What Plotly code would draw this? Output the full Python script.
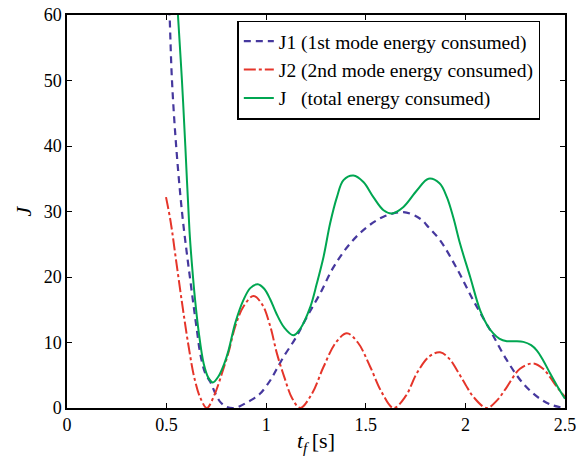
import plotly.graph_objects as go

# J1: 1st mode energy consumed
t1 = [0.50, 0.515, 0.527, 0.548, 0.577, 0.60, 0.619, 0.636, 0.652, 0.669, 0.694, 0.719, 0.745,
      0.77, 0.80, 0.836, 0.87, 0.90, 0.935, 0.97, 1.02, 1.05, 1.087, 1.15, 1.204, 1.271,
      1.338, 1.421, 1.505, 1.589, 1.689, 1.773, 1.815, 1.873, 1.957, 2.04, 2.124, 2.208,
      2.291, 2.375, 2.44, 2.5]
j1 = [72, 60, 50, 40, 30, 24.0, 19.5, 15.5, 11.9, 8.3, 5.3, 4.0, 2.2,
      0.9, 0.2, 0.0, 0.3, 0.8, 1.4, 2.2, 4.2, 5.8, 7.8, 10.8, 13.9, 17.5,
      21.5, 25.1, 27.6, 29.2, 29.9, 28.9, 27.6, 25.6, 21.3, 16.4, 11.9, 7.3,
      3.7, 1.4, 0.4, 0.0]

# J2: 2nd mode energy consumed
t2 = [0.497, 0.52, 0.55, 0.58, 0.61, 0.64, 0.67, 0.702, 0.74, 0.78, 0.811, 0.845, 0.886,
      0.936, 0.98, 1.02, 1.054, 1.09, 1.13, 1.171, 1.23, 1.288, 1.35, 1.405, 1.46, 1.522,
      1.58, 1.639, 1.70, 1.756, 1.82, 1.873, 1.92, 1.957, 2.00, 2.04, 2.107, 2.16, 2.208,
      2.274, 2.341, 2.39, 2.425, 2.46, 2.5]
j2 = [32.2, 28.5, 22.0, 15.5, 9.5, 4.5, 1.5, 0.0, 2.0, 5.5, 8.5, 12.5, 15.5,
      17.1, 15.8, 12.5, 8.3, 4.8, 1.5, 0.0, 2.2, 6.3, 10.0, 11.4, 10.0, 6.3,
      2.4, 0.0, 1.8, 5.3, 7.9, 8.5, 7.5, 5.8, 3.6, 1.7, 0.0, 1.2, 3.2,
      6.0, 6.8, 6.0, 4.7, 3.2, 1.7]

# J: total energy consumed
tt = [0.50, 0.557, 0.577, 0.594, 0.615, 0.627, 0.643, 0.660, 0.686, 0.71, 0.732, 0.76,
      0.79, 0.811, 0.845, 0.886, 0.92, 0.958, 0.99, 1.02, 1.05, 1.09, 1.137, 1.171,
      1.221, 1.254, 1.288, 1.321, 1.355, 1.388, 1.438, 1.488, 1.538, 1.589, 1.631, 1.689,
      1.756, 1.815, 1.87, 1.907, 1.94, 1.973, 2.024, 2.074, 2.11, 2.14, 2.17, 2.208, 2.25,
      2.291, 2.33, 2.358, 2.39, 2.425, 2.46, 2.5]
jt = [90, 60, 50, 40, 27, 22, 16.5, 11.9, 6.8, 4.6, 3.9, 4.8,
      6.8, 8.8, 13.0, 16.5, 18.3, 18.9, 18.2, 16.6, 14.5, 12.3, 11.1, 12.1,
      15.4, 19.0, 23.1, 28.2, 32.2, 34.8, 35.5, 34.5, 32.2, 30.2, 29.7, 30.7,
      33.2, 35.0, 34.3, 32.2, 29.0, 25.1, 20.0, 14.9, 12.6, 11.4, 10.6, 10.2, 10.2,
      10.1, 9.6, 8.8, 7.3, 5.3, 3.4, 1.4]

x_ticks = [0, 0.5, 1, 1.5, 2, 2.5]
x_tick_labels = ["0", "0.5", "1", "1.5", "2", "2.5"]
y_ticks = [0, 10, 20, 30, 40, 50, 60]

FONT = "Liberation Serif"

fig = go.Figure()
fig.add_trace(go.Scatter(x=t1, y=j1, mode="lines", name="J1 (1st mode energy consumed)",
                         line=dict(color="#46389e", width=2.2, dash="7px,5px", shape="spline",
                                   smoothing=1.0)))
fig.add_trace(go.Scatter(x=t2, y=j2, mode="lines", name="J2 (2nd mode energy consumed)",
                         line=dict(color="#e5352a", width=2, dash="12px,3px,3px,3px", shape="spline",
                                   smoothing=1.0)))
fig.add_trace(go.Scatter(x=tt, y=jt, mode="lines",
                         name="J\u00a0\u00a0\u00a0(total energy consumed)",
                         line=dict(color="#00a651", width=2, shape="spline", smoothing=1.0)))

fig.update_layout(
    template="none",
    width=581, height=456,
    margin=dict(l=67, r=16, t=15, b=48),
    plot_bgcolor="white", paper_bgcolor="white",
    font=dict(family=FONT, size=18, color="black"),
    xaxis=dict(range=[0, 2.5], tickvals=x_ticks, ticktext=x_tick_labels,
               showline=True, linecolor="black", linewidth=1.5, mirror="ticks",
               ticks="inside", ticklen=5, tickcolor="black", tickwidth=1,
               showgrid=False, zeroline=False, automargin=False,
               tickfont=dict(family=FONT, size=18, color="black"),
               title=dict(text="<i>t</i><sub><i>f</i></sub>\u2009[s]",
                          font=dict(family=FONT, size=22, color="black"), standoff=2)),
    yaxis=dict(range=[0, 60], tickvals=y_ticks,
               showline=True, linecolor="black", linewidth=1.5, mirror="ticks",
               ticks="inside", ticklen=5, tickcolor="black", tickwidth=1,
               showgrid=False, zeroline=False, automargin=False,
               tickfont=dict(family=FONT, size=18, color="black"),
               title=dict(text="<i>J</i>", font=dict(family=FONT, size=22, color="black"),
                          standoff=6)),
    legend=dict(x=0.342, y=0.986, xanchor="left", yanchor="top",
                bgcolor="white", bordercolor="black", borderwidth=1.5,
                font=dict(family=FONT, size=19.5, color="black"),
                tracegroupgap=0, itemwidth=30),
    showlegend=True,
)

fig.write_html("out.html")
